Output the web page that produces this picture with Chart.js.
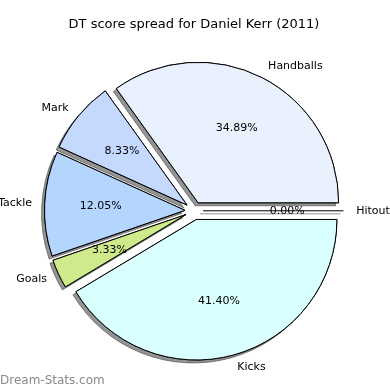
<!DOCTYPE html>
<html>
<head>
<meta charset="utf-8">
<script src="https://cdn.jsdelivr.net/npm/chart.js@4.4.0/dist/chart.umd.min.js"></script>
<style>
html,body{margin:0;padding:0;background:#fff;}
#wrap{position:relative;width:390px;height:390px;}
#wm{position:absolute;left:0;top:373px;font-family:"DejaVu Sans",sans-serif;font-size:12px;color:#8a8a8a;}
</style>
</head>
<body>
<div id="wrap"><canvas id="c" width="390" height="390"></canvas><div id="wm">Dream-Stats.com</div></div>
<script>
// Data (matplotlib order: counter-clockwise from 3 o'clock)
const categories = ['Handballs', 'Mark', 'Tackle', 'Goals', 'Kicks', 'Hitout'];
const values = [34.89, 8.33, 12.05, 3.33, 41.40, 0.00];
const colors = ['#EAF1FE', '#C5D9FE', '#B4D5FE', '#CFEA8B', '#DAFFFF', '#F0E0FF'];
const titleText = 'DT score spread for Daniel Kerr (2011)';

// Chart.js draws clockwise, so reverse to get counter-clockwise order
const cats = categories.slice().reverse();
const vals = values.slice().reverse();
const cols = colors.slice().reverse();
const total = values.reduce((a, b) => a + b, 0);

const EXPLODE = 9;
const FONT = '"DejaVu Sans", sans-serif';

const piePlugin = {
  id: 'mplPie',
  afterDatasetsUpdate(chart) {
    const meta = chart.getDatasetMeta(0);
    meta.data.forEach(el => {
      const mid = (el.startAngle + el.endAngle) / 2;
      el.x = chart.chartArea.left + (chart.chartArea.right - chart.chartArea.left) / 2 + EXPLODE * Math.cos(mid);
      el.y = chart.chartArea.top + (chart.chartArea.bottom - chart.chartArea.top) / 2 + EXPLODE * Math.sin(mid);
    });
  },
  beforeDatasetsDraw(chart) {
    const ctx = chart.ctx;
    const meta = chart.getDatasetMeta(0);
    meta.data.forEach(el => {
      ctx.save();
      ctx.shadowColor = 'rgba(60,60,60,0.55)';
      ctx.shadowOffsetX = -3;
      ctx.shadowOffsetY = 3;
      ctx.shadowBlur = 0;
      if (el.endAngle - el.startAngle === 0) {
        ctx.strokeStyle = '#000';
        ctx.lineWidth = 1;
        ctx.beginPath();
        ctx.moveTo(el.x, el.y);
        ctx.lineTo(el.x + el.outerRadius * Math.cos(el.startAngle), el.y + el.outerRadius * Math.sin(el.startAngle));
        ctx.stroke();
      } else {
        el.draw(ctx);
      }
      ctx.restore();
    });
  },
  afterDatasetsDraw(chart) {
    const ctx = chart.ctx;
    const meta = chart.getDatasetMeta(0);
    ctx.save();
    ctx.font = '11px ' + FONT;
    ctx.fillStyle = '#000';
    ctx.textBaseline = 'middle';
    meta.data.forEach((el, i) => {
      const mid = (el.startAngle + el.endAngle) / 2;
      const r = el.outerRadius;
      const lx = el.x + 1.09 * r * Math.cos(mid);
      const ly = el.y + 1.09 * r * Math.sin(mid);
      ctx.textAlign = Math.cos(mid) > 0 ? 'left' : 'right';
      ctx.fillText(cats[i], lx, ly);
      const px = el.x + 0.6 * r * Math.cos(mid);
      const py = el.y + 0.6 * r * Math.sin(mid);
      ctx.textAlign = 'center';
      ctx.fillText((vals[i] / total * 100).toFixed(2) + '%', px, py);
    });
    ctx.restore();
  }
};

new Chart(document.getElementById('c'), {
  type: 'pie',
  data: {
    labels: cats,
    datasets: [{
      data: vals,
      backgroundColor: cols,
      borderColor: '#000',
      borderWidth: 1,
      borderJoinStyle: 'miter',
      borderAlign: 'center'
    }]
  },
  options: {
    responsive: false,
    animation: false,
    rotation: 90,
    events: [],
    layout: { padding: { top: 0, left: 53, right: 55, bottom: 38 } },
    plugins: {
      legend: { display: false },
      tooltip: { enabled: false },
      title: {
        display: true,
        text: titleText,
        color: '#000',
        font: { family: FONT, size: 13, weight: 'normal' },
        padding: { top: 17, bottom: 37 }
      }
    }
  },
  plugins: [piePlugin]
});
</script>
</body>
</html>
